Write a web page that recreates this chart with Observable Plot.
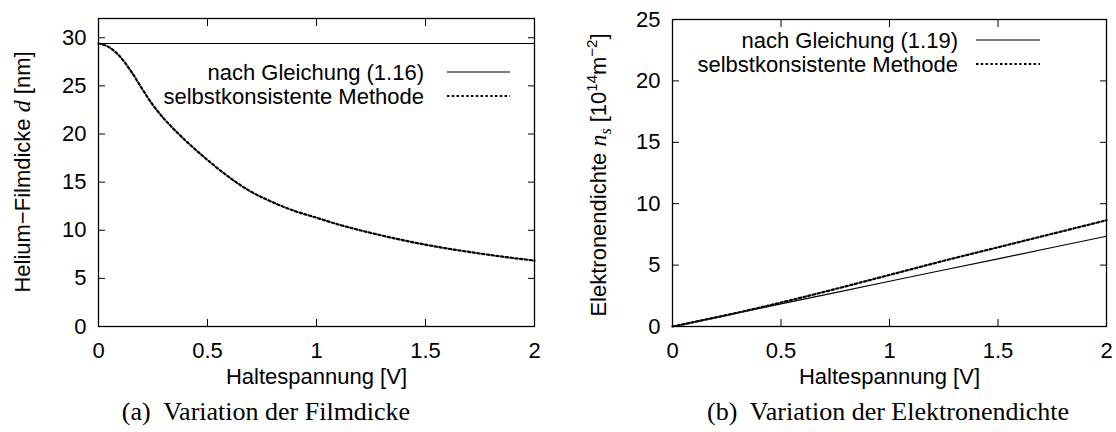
<!DOCTYPE html>
<html>
<head>
<meta charset="utf-8">
<script src="https://cdn.jsdelivr.net/npm/d3@7"></script>
<script src="https://cdn.jsdelivr.net/npm/@observablehq/plot@0.6"></script>
<style>
  body { margin: 0; background: #fff; }
  #fig { position: relative; width: 1116px; height: 432px; font-family: "Liberation Sans", Arial, sans-serif; }
  .panel { position: absolute; top: 0; }
  .cap { position: absolute; top: 397px; font-family: "Liberation Serif", "Times New Roman", serif; font-size: 26px; line-height: 30px; white-space: pre; transform: translateX(-50%); color: #000; }
</style>
</head>
<body>
<div id="fig"></div>
<script>
// (a) helium film thickness d [nm] versus holding voltage [V]
const voltageA = [0, 0.05, 0.1, 0.15, 0.2, 0.25, 0.3, 0.35, 0.4, 0.5, 0.6, 0.7, 0.8, 0.9, 1.0,
                  1.1, 1.2, 1.3, 1.4, 1.5, 1.6, 1.7, 1.8, 1.9, 2.0];
const thicknessSelfConsistent = [29.4, 29.0, 28.0, 26.5, 24.7, 23.0, 21.6, 20.4, 19.3, 17.3, 15.5, 14.0,
                                 12.9, 12.0, 11.3, 10.6, 10.0, 9.45, 8.95, 8.5, 8.1, 7.75, 7.42, 7.12, 6.85];
const voltageEq116 = [0, 2];
const thicknessEq116 = [29.4, 29.4];

// (b) electron density n_s [10^14 m^-2] versus holding voltage [V]
const voltageB = [0, 0.25, 0.5, 0.75, 1.0, 1.25, 1.5, 1.75, 2.0];
const densityEq119 = [0, 0.92, 1.84, 2.76, 3.68, 4.6, 5.51, 6.43, 7.35];
const densitySelfConsistent = [0, 0.93, 1.95, 3.05, 4.2, 5.35, 6.45, 7.55, 8.65];

// tick values and legend entries
const xTicks = [0, 0.5, 1, 1.5, 2];
const yTicksA = [0, 5, 10, 15, 20, 25, 30];
const yTicksB = [0, 5, 10, 15, 20, 25];
const legendA = ["nach Gleichung (1.16)", "selbstkonsistente Methode"];
const legendB = ["nach Gleichung (1.19)", "selbstkonsistente Methode"];
const xTitle = "Haltespannung [V]";
const captions = ["(a)  Variation der Filmdicke", "(b)  Variation der Elektronendichte"];

const FONT = 22;
const DOTS = "2.4,2.4";
const fmt = d => String(d);

function toRows(xs, ys) { return xs.map((x, i) => ({x, y: ys[i]})); }

// gnuplot-style box: frame, inward ticks on all four sides, labels left/bottom
function boxAxes(yTicks) {
  const tick = {tickSize: -7, text: null, label: null, strokeWidth: 1};
  return [
    Plot.frame({stroke: "#000", strokeWidth: 1.3}),
    Plot.axisX(xTicks, {anchor: "bottom", ...tick}),
    Plot.axisX(xTicks, {anchor: "top", ...tick}),
    Plot.axisY(yTicks, {anchor: "left", ...tick}),
    Plot.axisY(yTicks, {anchor: "right", ...tick}),
    Plot.axisX(xTicks, {anchor: "bottom", tickSize: 0, tickPadding: 16, label: null, fontSize: FONT, tickFormat: fmt}),
    Plot.axisY(yTicks, {anchor: "left", tickSize: 0, tickPadding: 12, label: null, fontSize: FONT, tickFormat: fmt}),
    Plot.text([xTitle], {frameAnchor: "bottom", dy: 57, fontSize: FONT})
  ];
}

function makePanel({yDomain, yTicks, solid, dotted, marginLeft, marginRight, marginTop}) {
  return Plot.plot({
    width: 558,
    height: 395,
    marginLeft, marginRight, marginTop,
    marginBottom: 69,
    style: {fontFamily: "'Liberation Sans', Arial, sans-serif", fontSize: FONT + "px", color: "#000", background: "#fff", overflow: "visible"},
    x: {domain: [0, 2]},
    y: {domain: yDomain},
    marks: [
      Plot.line(solid, {x: "x", y: "y", stroke: "#000", strokeWidth: 1.1}),
      Plot.line(dotted, {x: "x", y: "y", stroke: "#000", strokeWidth: 2.2, strokeDasharray: DOTS, curve: "monotone-x"}),
      ...boxAxes(yTicks)
    ]
  });
}

// legend rows: right-aligned text followed by a line sample
function addLegend(svg, labels, {textRight, lineX1, lineX2, rowY}) {
  const g = d3.select(svg).append("g").attr("font-size", FONT);
  labels.forEach((label, i) => {
    g.append("text").attr("x", textRight).attr("y", rowY[i]).attr("dy", "0.35em")
      .attr("text-anchor", "end").attr("fill", "#000").text(label);
    g.append("line").attr("x1", lineX1).attr("x2", lineX2).attr("y1", rowY[i]).attr("y2", rowY[i])
      .attr("stroke", "#000")
      .attr("stroke-width", i === 0 ? 1.1 : 2.2)
      .attr("stroke-dasharray", i === 0 ? null : DOTS);
  });
}

// rotated y title built from styled pieces
function addYTitle(svg, cx, cy, pieces) {
  const t = d3.select(svg).append("text")
    .attr("transform", `translate(${cx},${cy}) rotate(-90)`)
    .attr("text-anchor", "middle").attr("font-size", FONT).attr("fill", "#000");
  for (const p of pieces) {
    const s = t.append("tspan").text(p.text);
    if (p.italic) s.attr("font-family", "'Liberation Serif', 'Times New Roman', serif").attr("font-style", "italic");
    if (p.size) s.attr("font-size", p.size);
    if (p.dy) s.attr("dy", p.dy);
  }
}

const fig = document.getElementById("fig");

const left = makePanel({
  yDomain: [0, 32], yTicks: yTicksA,
  solid: toRows(voltageEq116, thicknessEq116),
  dotted: toRows(voltageA, thicknessSelfConsistent),
  marginLeft: 98, marginRight: 24, marginTop: 18
});
left.classList.add("panel");
left.style.left = "0px";
addLegend(left, legendA, {textRight: 424, lineX1: 447, lineX2: 510, rowY: [72, 96]});
addYTitle(left, 30, 172, [
  {text: "Helium\u2212Filmdicke "},
  {text: "d", italic: true, size: 24},
  {text: " [nm]"}
]);
fig.appendChild(left);

const right = makePanel({
  yDomain: [0, 25], yTicks: yTicksB,
  solid: toRows(voltageB, densityEq119),
  dotted: toRows(voltageB, densitySelfConsistent),
  marginLeft: 114, marginRight: 10, marginTop: 19
});
right.classList.add("panel");
right.style.left = "558px";
addLegend(right, legendB, {textRight: 958 - 558, lineX1: 976 - 558, lineX2: 1040 - 558, rowY: [40, 64]});
addYTitle(right, 48, 175, [
  {text: "Elektronendichte "},
  {text: "n", italic: true, size: 24},
  {text: "s", italic: true, size: 16, dy: 5},
  {text: " [10", dy: -5},
  {text: "14", size: 15, dy: -9},
  {text: "m", dy: 9},
  {text: "\u22122", size: 15, dy: -9},
  {text: "]", dy: 9}
]);
fig.appendChild(right);

// sub-figure captions
[[captions[0], 266], [captions[1], 888]].forEach(([text, cx]) => {
  const d = document.createElement("div");
  d.className = "cap";
  d.style.left = cx + "px";
  d.textContent = text;
  fig.appendChild(d);
});
</script>
</body>
</html>
